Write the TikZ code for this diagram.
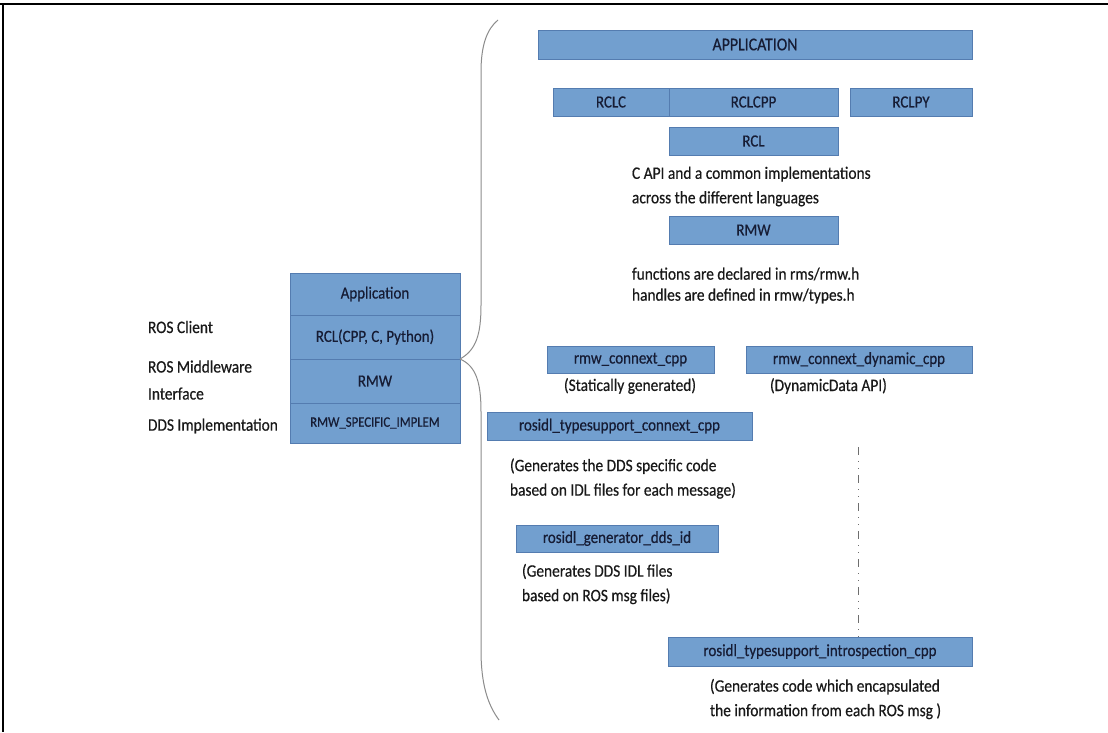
\documentclass[tikz,border=0pt]{standalone}
\usepackage{fontspec}
\setmainfont{Carlito}[FakeStretch=0.88, FakeBold=0.5]
\begin{document}
\begin{tikzpicture}[x=1pt,y=-1pt,
  every node/.style={inner sep=0pt, outer sep=0pt},
  boxfill/.style={fill={rgb,255:red,114;green,159;blue,207}, draw={rgb,255:red,84;green,124;blue,176}, line width=0.8pt},
  layerbox/.style={boxfill, font=\fontsize{17}{18}\selectfont, text={rgb,255:red,22;green,28;blue,52}},
  note/.style={font=\fontsize{17.5}{24.5}\selectfont, text={rgb,255:red,25;green,25;blue,25}, align=left, anchor=west},
  label/.style={font=\fontsize{17.5}{27}\selectfont, text={rgb,255:red,25;green,25;blue,25}, align=left, anchor=west},
  bracecurve/.style={draw={rgb,255:red,140;green,140;blue,140}, line width=1pt},
  guide/.style={draw={rgb,255:red,110;green,110;blue,110}, line width=1pt, dash pattern=on 8pt off 6pt on 1pt off 6pt on 1pt off 6pt}
]
\useasboundingbox (0,0) rectangle (1108,732);
\fill[white] (0,0) rectangle (1108,732);

% frame edges
\draw[line width=1.6pt] (0,4) -- (1108,4);
\draw[line width=1.6pt] (3,4) -- (3,732);

% layer stack on the left
\node[layerbox, minimum width=170pt, minimum height=42pt] (app) at (375,294) {Application};
\node[layerbox, minimum width=170pt, minimum height=44pt] (rcl) at (375,337) {RCL(CPP, C, Python)};
\node[layerbox, minimum width=170pt, minimum height=44pt] (rmw) at (375,381) {RMW};
\node[layerbox, minimum width=170pt, minimum height=40pt, font=\fontsize{14.5}{16}\selectfont] (impl) at (375,423) {RMW\_SPECIFIC\_IMPLEM};

\node[label] (lclient) at (148,327) {ROS Client};
\node[label] (lmw) at (148,380) {ROS Middleware\\Interface};
\node[label] (ldds) at (148,426) {DDS Implementation};

% brace joining the stack to the detailed view
\coordinate (tip) at (rcl.south east);
\coordinate (btop) at (498,20);
\coordinate (bbot) at (499,720);
\draw[bracecurve] (tip) .. controls (476,350) and (481,335) .. (481,305)
  -- (481,72) .. controls (481,45) and (487,29) .. (btop);
\draw[bracecurve] (tip) .. controls (476,366) and (481,382) .. (481,412)
  -- (481,650) .. controls (481,685) and (488,705) .. (bbot);

% detailed view
\node[layerbox, minimum width=434pt, minimum height=29pt, font=\fontsize{18}{18}\selectfont] (bigapp) at (755,44.5) {APPLICATION};
\node[layerbox, minimum width=116pt, minimum height=28pt] (rclc) at (611,102) {RCLC};
\node[layerbox, minimum width=169pt, minimum height=28pt] (rclcpp) at (753.5,102) {RCLCPP};
\node[layerbox, minimum width=122pt, minimum height=28pt] (rclpy) at (911,102) {RCLPY};
\node[layerbox, minimum width=169pt, minimum height=28pt] (rclcore) at (753.5,141) {RCL};
\node[note] (capi) at (632,186.5) {C API and a common implementations\\across the different languages};
\node[layerbox, minimum width=169pt, minimum height=28pt] (rmwcore) at (753.5,230) {RMW};
\node[note, font=\fontsize{17.5}{21}\selectfont] (funcs) at (632,285.5) {functions are declared in rms/rmw.h\\handles are defined in rmw/types.h};

\node[layerbox, minimum width=167pt, minimum height=27pt] (connext) at (630.5,359.5) {rmw\_connext\_cpp};
\node[layerbox, minimum width=226pt, minimum height=27pt] (dynamic) at (859,359.5) {rmw\_connext\_dynamic\_cpp};
\node[note, anchor=center] (static) at (630,386) {(Statically generated)};
\node[note] (dyndata) at (770,386) {(DynamicData API)};

\node[layerbox, minimum width=265pt, minimum height=28pt] (tsconnext) at (619.5,426) {rosidl\_typesupport\_connext\_cpp};
\node[note] (ddscode) at (510,478.5) {(Generates the DDS specific code\\based on IDL files for each message)};

\node[layerbox, minimum width=202pt, minimum height=27pt] (gendds) at (617,538.5) {rosidl\_generator\_dds\_id};
\node[note] (idlfiles) at (522,584) {(Generates DDS IDL files\\based on ROS msg files)};

\node[layerbox, minimum width=304pt, minimum height=29pt] (introspect) at (820,651.5) {rosidl\_typesupport\_introspection\_cpp};
\node[note] (encap) at (710,699) {(Generates code which encapsulated\\the information from each ROS msg )};

% dash-dot guide above the introspection box
\coordinate (gtop) at (858,447);
\draw[guide] (gtop) -- (introspect.north -| gtop);
\end{tikzpicture}
\end{document}
